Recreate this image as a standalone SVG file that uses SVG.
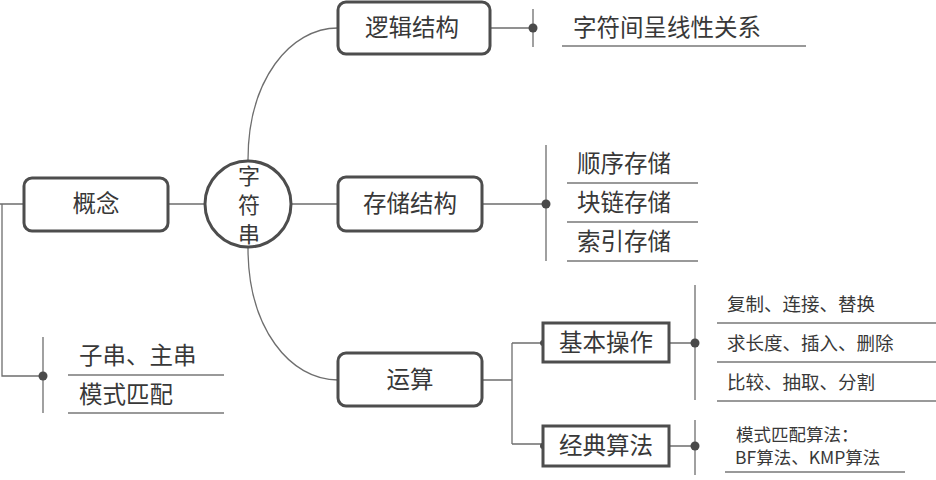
<svg xmlns="http://www.w3.org/2000/svg" width="936" height="480" viewBox="0 0 936 480">
<style>
text{font-family:"Noto Sans CJK SC","Noto Sans",sans-serif;fill:#383838}
.box{fill:#fff;stroke:#4d4d4d;stroke-width:3}
.sq{fill:#fff;stroke:#4d4d4d;stroke-width:3}
.big{font-size:23.5px;text-anchor:middle}
.lt{font-size:23.5px}
.sm{font-size:18.5px}
.sm2{font-size:17.5px}
.ln{fill:none;stroke:#6e6e6e;stroke-width:1.3}
.ul{stroke:#777;stroke-width:1.3}
.dot{fill:#4a4a4a}
</style>
<rect width="936" height="480" fill="#fff"/>
<g id="connectors">
<path class="ln" d="M248,160 C248,80 290,28 338,28"/>
<path class="ln" d="M248,248 C248,328 290,380 338,380"/>
<path class="ln" d="M168,204 H205 M291,204 H338"/>
<path class="ln" d="M0,204 H24 M2,204 V376 H43"/>
<path class="ln" d="M43,337 V413"/>
<path class="ln" d="M490,28 H533 M533,9 V47"/>
<path class="ln" d="M482,204 H546 M546,145 V261"/>
<path class="ln" d="M482,380 H512 M512,343 V444 M512,343 H543 M512,444 H543"/>
<path class="ln" d="M669,343 H695 M695,285 V400"/>
<path class="ln" d="M669,446 H695 M695,420 V475"/>
<circle class="dot" cx="43" cy="376" r="4.5"/>
<circle class="dot" cx="533" cy="28" r="4.5"/>
<circle class="dot" cx="546" cy="204" r="4.5"/>
<circle class="dot" cx="695" cy="343" r="4.5"/>
<circle class="dot" cx="695" cy="446" r="4.5"/>
<circle class="dot" cx="543" cy="343" r="3"/>
<circle class="dot" cx="543" cy="446" r="3"/>
</g>
<g id="root">
<circle cx="248" cy="204" r="43" fill="#fff" stroke="#4d4d4d" stroke-width="3"/>
<text class="big" style="font-size:22px" x="249" y="184">字</text>
<text class="big" style="font-size:22px" x="249" y="213">符</text>
<text class="big" style="font-size:22px" x="249" y="242">串</text>
</g>
<g id="n-concept">
<rect class="box" x="24" y="178" width="144" height="53" rx="8"/>
<text class="big" x="96" y="212">概念</text>
</g>
<g id="n-concept-items">
<text class="lt" x="79" y="364">子串、主串</text>
<line class="ul" x1="68" y1="375" x2="224" y2="375"/>
<text class="lt" x="79" y="403">模式匹配</text>
<line class="ul" x1="68" y1="413" x2="224" y2="413"/>
</g>
<g id="n-logic">
<rect class="box" x="338" y="2" width="152" height="52" rx="8"/>
<text class="big" x="412" y="36">逻辑结构</text>
</g>
<g id="n-logic-items">
<text class="lt" x="573" y="36">字符间呈线性关系</text>
<line class="ul" x1="562" y1="46" x2="806" y2="46"/>
</g>
<g id="n-storage">
<rect class="box" x="338" y="177" width="144" height="54" rx="8"/>
<text class="big" x="410" y="212">存储结构</text>
</g>
<g id="n-storage-items">
<text class="lt" x="577" y="172">顺序存储</text>
<line class="ul" x1="567" y1="183" x2="698" y2="183"/>
<text class="lt" x="577" y="211">块链存储</text>
<line class="ul" x1="567" y1="222" x2="698" y2="222"/>
<text class="lt" x="577" y="250">索引存储</text>
<line class="ul" x1="567" y1="261" x2="698" y2="261"/>
</g>
<g id="n-ops">
<rect class="box" x="338" y="353" width="144" height="53" rx="8"/>
<text class="big" x="410" y="388">运算</text>
</g>
<g id="n-basic">
<rect class="sq" x="543" y="323" width="126" height="39"/>
<text class="big" x="606" y="351">基本操作</text>
</g>
<g id="n-basic-items">
<text class="sm" x="727" y="311">复制、连接、替换</text>
<line class="ul" x1="717" y1="323" x2="936" y2="323"/>
<text class="sm" x="727" y="350">求长度、插入、删除</text>
<line class="ul" x1="717" y1="362" x2="936" y2="362"/>
<text class="sm" x="727" y="389">比较、抽取、分割</text>
<line class="ul" x1="717" y1="401" x2="936" y2="401"/>
</g>
<g id="n-classic">
<rect class="sq" x="543" y="426" width="126" height="40"/>
<text class="big" x="606" y="454">经典算法</text>
</g>
<g id="n-classic-items">
<text class="sm2" x="736" y="441">模式匹配算法：</text>
<text class="sm2" x="735" y="464">BF算法、KMP算法</text>
<line class="ul" x1="725" y1="472" x2="905" y2="472"/>
</g>
</svg>
